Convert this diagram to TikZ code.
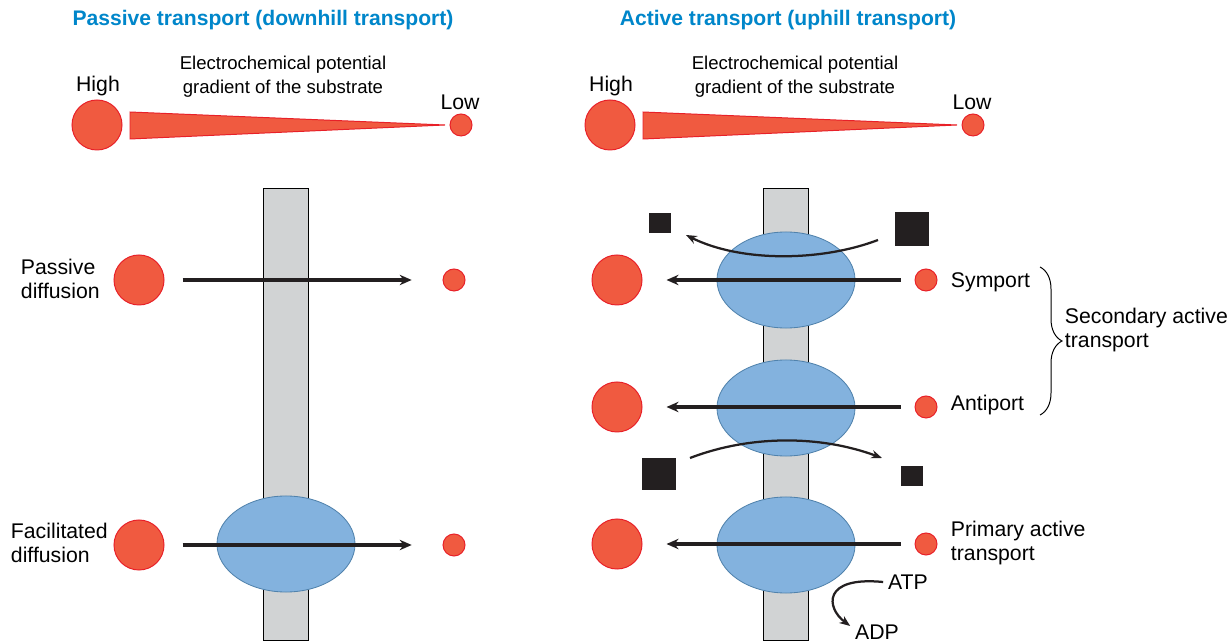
\documentclass[tikz,border=0pt]{standalone}
\usepackage{fontspec}
\setmainfont{Liberation Sans}
\usetikzlibrary{shapes.geometric,arrows.meta,decorations.pathreplacing}

\begin{document}
\begin{tikzpicture}[x=0.025cm, y=-0.025cm,
  substrate/.style={circle, fill=cSubstrate, draw=cSubstrateEdge, line width=0.7pt, inner sep=0pt},
  bigsub/.style={substrate, minimum size=1.25cm},
  smallsub/.style={substrate, minimum size=0.55cm},
  carrier/.style={ellipse, fill=cCarrier, draw=cCarrierEdge, line width=0.6pt, inner sep=0pt, minimum width=3.45cm, minimum height=2.4cm},
  cosub/.style={rectangle, fill=cCosub, inner sep=0pt},
  flux/.style={line width=2.4pt, draw=cCosub, -{Stealth[length=0.3cm, width=0.26cm]}},
  cotrans/.style={line width=1.6pt, draw=cCosub, -{Stealth[length=0.27cm, width=0.21cm]}},
  sidetext/.style={font=\fontsize{15.1}{17.1}\selectfont, align=left},
  gradtext/.style={font=\fontsize{13.2}{17}\selectfont, align=center},
  headline/.style={font=\fontsize{15}{18}\selectfont\bfseries, text=cTitle}]
  % Colours taken from the figure
  \definecolor{cSubstrate}{RGB}{240, 90, 64}      % substrate fill
  \definecolor{cSubstrateEdge}{RGB}{232, 32, 40}  % substrate outline
  \definecolor{cCarrier}{RGB}{131, 178, 222}      % carrier protein
  \definecolor{cCarrierEdge}{RGB}{80, 130, 172}
  \definecolor{cMembrane}{RGB}{209, 211, 212}     % lipid bilayer
  \definecolor{cTitle}{RGB}{0, 134, 202}          % headings
  \definecolor{cCosub}{RGB}{35, 31, 32}           % co-transported ion

  % Page frame (1232 x 642 px, 1 px = 0.025 cm)
  \useasboundingbox (0,0) rectangle (1232,642);

  % Headings
  \node[headline] (passiveTitle) at (263,20) {Passive transport (downhill transport)};
  \node[headline] (activeTitle)  at (788,20) {Active transport (uphill transport)};

  % Gradient, passive side
  \node[bigsub]   (gradHighP) at (97,125) {};
  \node[smallsub] (gradLowP)  at (461,125) {};
  \draw[fill=cSubstrate, draw=cSubstrateEdge, line width=0.7pt] (130,112) -- (445,125) -- (130,139) -- cycle;
  \node[sidetext] (highP) at (98,86) {High};
  \node[sidetext] (lowP)  at (460,102) {Low};
  \node[gradtext] (gradP) at (283,77) {Electrochemical potential\\gradient of the substrate};

  % Gradient, active side
  \node[bigsub]   (gradHighA) at (610,125) {};
  \node[smallsub] (gradLowA)  at (973,125) {};
  \draw[fill=cSubstrate, draw=cSubstrateEdge, line width=0.7pt] (643,112) -- (957,125) -- (643,139) -- cycle;
  \node[sidetext] (highA) at (611,86) {High};
  \node[sidetext] (lowA)  at (972,102) {Low};
  \node[gradtext] (gradA) at (795,77) {Electrochemical potential\\gradient of the substrate};

  % Membranes
  \draw[fill=cMembrane, line width=0.6pt] (263,188) rectangle (308,640);
  \draw[fill=cMembrane, line width=0.6pt] (763,188) rectangle (808,640);

  % Passive diffusion
  \node[sidetext, anchor=west] (pdText) at (16,279) {Passive\\diffusion};
  \node[bigsub]   (pdHigh) at (139,280) {};
  \node[smallsub] (pdLow)  at (454,280) {};
  \draw[flux, shorten <=0.45cm, shorten >=0.77cm] (pdHigh) -- (pdLow);

  % Facilitated diffusion
  \node[sidetext, anchor=west] (fdText) at (6,543) {Facilitated\\diffusion};
  \node[carrier]  (fdCarrier) at (286,544) {};
  \node[bigsub]   (fdHigh) at (139,545) {};
  \node[smallsub] (fdLow)  at (454,545) {};
  \draw[flux, shorten <=0.45cm, shorten >=0.77cm] (fdHigh) -- (fdLow);

  % Symport
  \node[carrier]  (symCarrier) at (786,280) {};
  \node[bigsub]   (symHigh) at (617,280) {};
  \node[smallsub] (symLow)  at (926,280) {};
  \draw[flux, shorten <=0.35cm, shorten >=0.6cm] (symLow) -- (symHigh);
  \node[sidetext, anchor=west] (symText) at (946,282) {Symport};
  \node[cosub, minimum width=0.55cm, minimum height=0.5cm] (symOut) at (660,223) {};
  \node[cosub, minimum width=0.87cm, minimum height=0.83cm] (symIn) at (912,229) {};
  \coordinate (symFrom) at (878,240);
  \coordinate (symTo) at (686,235);
  \draw[cotrans] (symFrom) .. controls (820,262) and (740,262) .. (symTo);

  % Antiport
  \node[carrier]  (antiCarrier) at (786,408) {};
  \node[bigsub]   (antiHigh) at (617,407) {};
  \node[smallsub] (antiLow)  at (926,407) {};
  \draw[flux, shorten <=0.35cm, shorten >=0.6cm] (antiLow) -- (antiHigh);
  \node[sidetext, anchor=west] (antiText) at (946,405) {Antiport};
  \node[cosub, minimum width=0.87cm, minimum height=0.82cm] (antiIn) at (659,474) {};
  \node[cosub, minimum width=0.55cm, minimum height=0.5cm] (antiOut) at (912,476) {};
  \coordinate (antiFrom) at (690,458);
  \coordinate (antiTo) at (882,458);
  \draw[cotrans] (antiFrom) .. controls (750,435) and (820,435) .. (antiTo);

  % Secondary active transport brace
  \draw[line width=0.7pt, decorate, decoration={brace, amplitude=0.55cm}] (1040,267) -- (1040,415);
  \node[sidetext, anchor=west] (secText) at (1060,330) {Secondary active\\transport};

  % Primary active transport
  \node[carrier]  (primCarrier) at (786,545) {};
  \node[bigsub]   (primHigh) at (617,544) {};
  \node[smallsub] (primLow)  at (926,544) {};
  \draw[flux, shorten <=0.35cm, shorten >=0.6cm] (primLow) -- (primHigh);
  \node[sidetext, anchor=west] (primText) at (946,543) {Primary active\\transport};

  % ATP hydrolysis
  \node[sidetext] (atp) at (908,582) {ATP};
  \node[sidetext] (adp) at (877,632) {ADP};
  \draw[cotrans] (atp.west) .. controls (822,576) and (826,608) .. ([yshift=0.15cm]adp.west);

\end{tikzpicture}
\end{document}
